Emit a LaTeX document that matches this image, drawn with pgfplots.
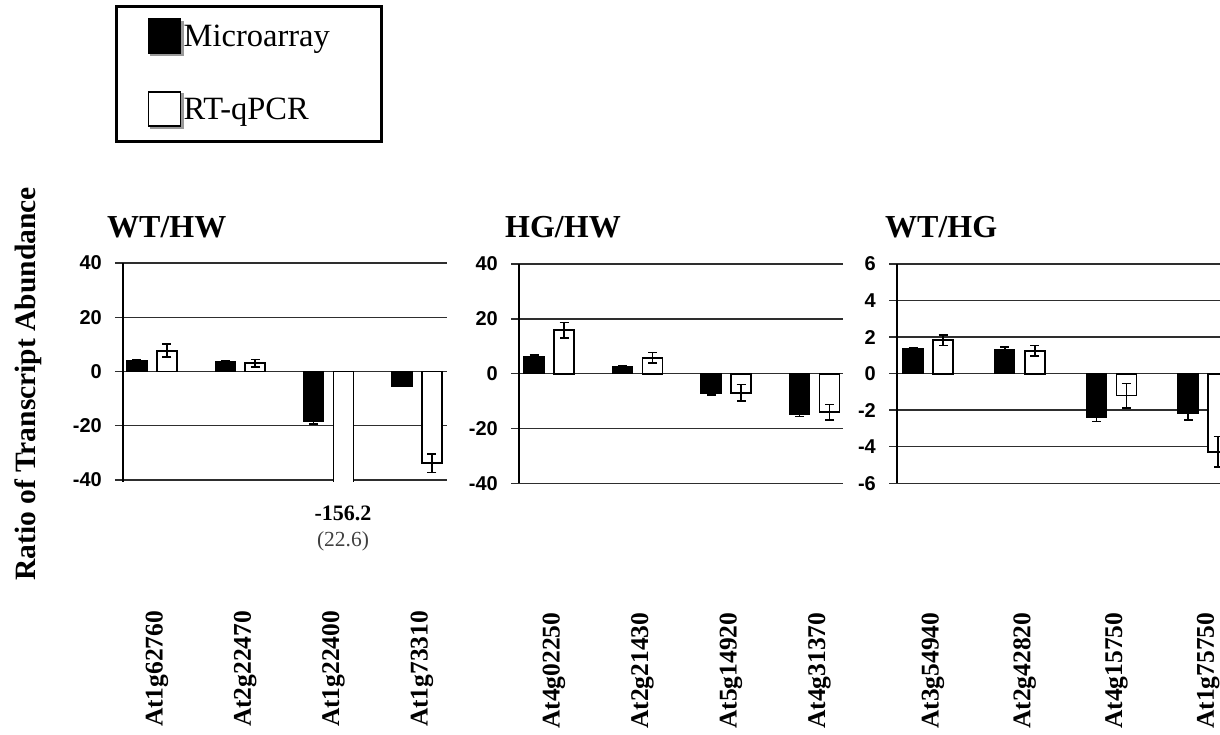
\documentclass[border=0pt]{standalone}
\usepackage{fontspec}
\setmainfont{Liberation Serif}
\newfontfamily\arialfont{Liberation Sans}
\usepackage{pgfplots}
\pgfplotsset{compat=1.18}
\pgfplotsset{
  panel/.style={
    scale only axis,
    anchor=south west,
    ybar=10pt, bar width=20pt,
    axis y line*=left,
    axis x line*=bottom,
    x axis line style={draw=none},
    y axis line style={line width=1.5pt, black, -},
    ymajorgrids,
    grid style={line width=1.4pt, black!82},
    tick align=outside,
    major tick length=8pt,
    ytick style={line width=1.4pt, black!82},
    xtick={0,1,2,3},
    xtick style={draw=none},
    yticklabel style={font=\fontsize{20}{21}\selectfont\arialfont\bfseries, inner sep=0pt, xshift=-13pt},
    xticklabel style={yshift=-121pt, xshift=5pt, rotate=90, anchor=east, inner sep=0pt, font=\fontsize{25.5}{26}\selectfont\bfseries},
    every axis title/.style={at={(0,1)}, anchor=base west, inner sep=0pt, font=\fontsize{32}{34}\selectfont\bfseries},
  },
  errs/.style={
     error bars/y dir=both, error bars/y explicit,
     error bars/error bar style={line width=1.6pt, black, solid},
     error bars/error mark options={rotate=90, mark size=4.5pt, line width=1.6pt, black},
  },
  micro/.style={errs, fill=black, draw=black, line width=1.5pt,
     legend image code/.code={
       \fill[black!40] (2.5pt,-18.5pt) rectangle (34.5pt,15.5pt);
       \filldraw[fill=black, draw=black, line width=1.5pt] (0pt,-16pt) rectangle (32pt,18pt);}},
  rt/.style={errs, fill=white, draw=black, line width=1.8pt,
     legend image code/.code={
       \fill[black!40] (2.5pt,-18.5pt) rectangle (34.5pt,15.5pt);
       \filldraw[fill=white, draw=black, line width=1.5pt] (0pt,-16pt) rectangle (32pt,18pt);}},
}
\begin{document}
\begin{tikzpicture}[x=1pt,y=1pt]
% ---------------- WT/HW ----------------
\begin{axis}[panel,
  at={(123pt,252.4pt)}, width=324pt, height=218.6pt,
  xmin=-0.328, xmax=3.341, ymin=-40.6, ymax=40,
  ytick={-40,-20,0,20,40}, yticklabels={-40,-20,0,20,40},
  xticklabels={At1g62760,At2g22470,At1g22400,At1g73310},
  title={WT/HW}, title style={xshift=-16pt, yshift=25pt},
  ylabel={Ratio of Transcript Abundance},
  ylabel style={at={(axis description cs:-0.2932,0.4465)}, anchor=center, font=\fontsize{29.5}{31}\selectfont\bfseries},
  legend cell align=left,
  legend style={at={(axis description cs:-0.0262,2.182)}, anchor=north west,
    draw=black, fill=white, line width=3pt, inner xsep=31.5pt, inner ysep=12pt,
    row sep=35pt, font=\fontsize{32.5}{34}\selectfont,
    nodes={inner sep=0pt, text width=166pt, align=left}},
]
\addplot[micro] coordinates {(0,3.9) +- (0,0.5) (1,3.6) +- (0,0.3) (2,-18.4) +- (0,1.0) (3,-5.3) +- (0,0.3)};
\addlegendentry{Microarray}
\addplot[rt] coordinates {(0,7.7) +- (0,2.45) (1,3.1) +- (0,1.35) (2,-156.2) +- (0,22.6) (3,-33.8) +- (0,3.4)};
\addlegendentry{RT-qPCR}
\end{axis}
% ---------------- HG/HW ----------------
\begin{axis}[panel,
  at={(519pt,250.7pt)}, width=324pt, height=219.3pt,
  xmin=-0.339, xmax=3.322, ymin=-40, ymax=40,
  ytick={-40,-20,0,20,40}, yticklabels={-40,-20,0,20,40},
  xticklabels={At4g02250,At2g21430,At5g14920,At4g31370},
  title={HG/HW}, title style={xshift=-14pt, yshift=26pt},
]
\addplot[micro] coordinates {(0,6.3) +- (0,0.5) (1,2.5) +- (0,0.4) (2,-7.3) +- (0,0.5) (3,-14.9) +- (0,0.7)};
\addplot[rt] coordinates {(0,15.8) +- (0,2.9) (1,5.8) +- (0,1.9) (2,-7.0) +- (0,3.0) (3,-14.0) +- (0,2.8)};
\end{axis}
% ---------------- WT/HG ----------------
\begin{axis}[panel,
  at={(897pt,250.7pt)}, width=336pt, height=219.3pt,
  xmin=-0.338, xmax=3.326, ymin=-6, ymax=6,
  ytick={-6,-4,-2,0,2,4,6}, yticklabels={-6,-4,-2,0,2,4,6},
  xticklabels={At3g54940,At2g42820,At4g15750,At1g75750},
  title={WT/HG}, title style={xshift=-12pt, yshift=26pt},
]
\addplot[micro] coordinates {(0,1.35) +- (0,0.05) (1,1.33) +- (0,0.12) (2,-2.38) +- (0,0.24) (3,-2.15) +- (0,0.4)};
\addplot[rt] coordinates {(0,1.82) +- (0,0.28) (1,1.25) +- (0,0.3) (2,-1.2) +- (0,0.67) (3,-4.27) +- (0,0.84)};
\end{axis}
% value of the clipped bar
\node[anchor=base, inner sep=0pt, font=\fontsize{22}{24}\selectfont\bfseries] at (343,214) {-156.2};
\node[anchor=base, inner sep=0pt, text=black!75, font=\fontsize{21.5}{24}\selectfont] at (343,188) {(22.6)};
\pgfresetboundingbox
\useasboundingbox (0,0) rectangle (1220,734);
\end{tikzpicture}
\end{document}
